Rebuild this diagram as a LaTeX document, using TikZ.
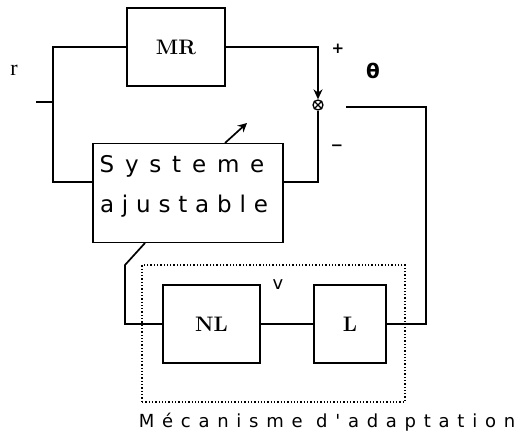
\documentclass[tikz,border=0pt]{standalone}
\usepackage{fontspec}
\newfontfamily\plotfont{DejaVu Sans}
\newfontfamily\plotbold{DejaVu Sans Bold}
\newfontfamily\plotserif{Liberation Serif}
\usetikzlibrary{arrows.meta}
\begin{document}
\begin{tikzpicture}[x=1pt,y=-1pt,
  wire/.style={line width=1.7pt},
  blockbox/.style={draw,line width=1.7pt,inner sep=0pt,font=\bfseries\fontsize{21}{22}\selectfont},
  lbl/.style={inner sep=0pt}]
\useasboundingbox (0,0) rectangle (528,439);
% blocks
\node[blockbox,minimum width=98pt,minimum height=78pt] (MR) at (176,47) {MR};
\node[blockbox,minimum width=190pt,minimum height=99pt] (SA) at (188,193) {};
\node[lbl,font=\plotfont\fontsize{23}{24}\selectfont\addfontfeature{LetterSpace=47}] (t1) at (182,166) {Systeme};
\node[lbl,font=\plotfont\fontsize{23}{24}\selectfont\addfontfeature{LetterSpace=34}] (t2) at (184,206) {ajustable};
\node[blockbox,minimum width=97pt,minimum height=78pt] (NL) at (211.5,324) {NL};
\node[blockbox,minimum width=72pt,minimum height=78pt] (L) at (350,324) {L};
\node[draw,circle,line width=1.3pt,minimum size=10pt,inner sep=0pt] (sum) at (318,105) {};
\draw[line width=1.3pt] (sum.north west) -- (sum.south east) (sum.north east) -- (sum.south west);
% dotted frame
\node[draw,dotted,line width=1.3pt,minimum width=263pt,minimum height=137pt] (AM) at (273.5,333.5) {};
\node[lbl,font=\plotfont\fontsize{18}{20}\selectfont\addfontfeature{LetterSpace=43}] (amt) at (327,422) {Mécanisme d'adaptation};
% labels
\node[lbl,font=\plotserif\fontsize{22}{24}\selectfont] (r) at (14,70) {r};
\node[lbl,font=\plotbold\fontsize{15}{16}\selectfont] (plus) at (338,49) {+};
\node[lbl,font=\plotbold\fontsize{15}{16}\selectfont] (minus) at (337,148) {−};
\node[lbl,font=\plotbold\fontsize{20}{22}\selectfont] (theta) at (373,71) {θ};
\node[lbl,font=\plotfont\fontsize{18}{20}\selectfont] (v) at (278,285) {v};
% coordinates
\coordinate (in) at (36,102);
\coordinate (split) at (53,102);
\coordinate (e0) at (346,107);
\coordinate (eR) at (426,107);
\coordinate (saR) at (SA.east |- 0,182);
\coordinate (saL) at (SA.west |- 0,182);
\coordinate (saB) at (145,243);
\coordinate (kink) at (125,265);
\coordinate (adjA) at (225,143);
\coordinate (adjB) at (247,123);
% connectors
\draw[wire] (in) -- (split);
\draw[wire] (MR.west) -| (split) |- (saL);
\draw[wire,-{Stealth[length=10pt,width=9pt]}] (MR.east) -| (sum.north);
\draw[wire] (sum.south) |- (saR);
\draw[wire] (e0) -- (eR) |- (L.east);
\draw[wire] (L.west) -- (NL.east);
\draw[wire] (saB) -- (kink) |- (NL.west);
\draw[wire,-{Stealth[length=9pt,width=9pt]}] (adjA) -- (adjB);
\end{tikzpicture}
\end{document}
